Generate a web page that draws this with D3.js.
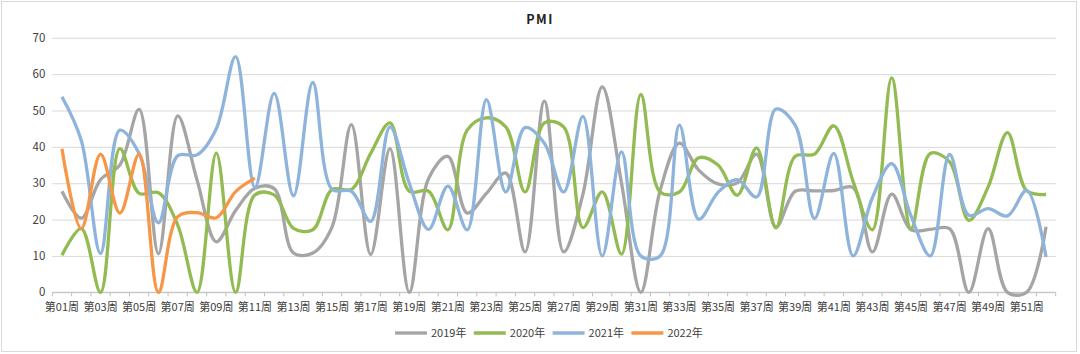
<!DOCTYPE html>
<html>
<head>
<meta charset="utf-8">
<script src="https://cdn.jsdelivr.net/npm/d3@7"></script>
<style>
  body { margin: 0; background: #fff; }
  text { font-family: "Noto Sans CJK SC", "Noto Sans", sans-serif; fill: #404040; }
</style>
</head>
<body>
<svg id="chart"></svg>
<script>
// Weeks 1..52
const weeks = d3.range(1, 53).map(d => "第" + String(d).padStart(2, "0") + "周");
const seriesNames = ["2019年", "2020年", "2021年", "2022年"];
const yTicks = [0, 10, 20, 30, 40, 50, 60, 70];

// Values
const v2019 = [27.8, 20.4, 31, 35, 50.3, 10.6, 48.5, 30.9, 13.9, 22.5, 28.6, 28.5, 10.8, 10.8, 18, 46.1, 10.4, 39.5, 0, 31.3,
  37.4, 21.8, 27.2, 32.8, 11.1, 52.6, 11.1, 27, 56.5, 30, 0, 28, 41, 33.6, 29.8, 30.1, 38, 18, 27.8, 27.9,
  28, 28.8, 11.1, 27, 17.2, 17.3, 17.5, 0, 17.5, 0, 0, 18];
const v2020 = [10.2, 17.5, 0, 39.5, 27.2, 27.4, 18.5, 0, 38.3, 0, 26.8, 26.8, 17.6, 17.2, 28.3, 28.3, 38.2, 46.6, 27.8, 27.8,
  17.2, 44.6, 48, 45.5, 27.6, 46.6, 45.5, 17.8, 27.6, 10.5, 54.4, 27.6, 27.6, 37, 35, 26.7, 39.7, 17.7, 37.4, 38,
  45.8, 30.5, 17.2, 59, 17.5, 38.2, 35.9, 19.8, 29, 43.9, 27.9, 26.9];
const v2021 = [53.8, 41.8, 10.7, 44.6, 38.2, 19.1, 37.6, 37.8, 45, 64.8, 28.8, 54.7, 26.5, 57.7, 28.3, 27.8, 19.5, 45.5, 30, 17.3,
  29.2, 17.2, 53, 27.6, 45.3, 41, 27.6, 48.4, 10, 38.6, 10, 10, 46, 20.1, 27.5, 31, 26.2, 50.4, 46, 20.3,
  38.2, 10, 26, 35.4, 21, 10, 37.9, 21.2, 23, 21, 28, 9.7];
const v2022 = [39.5, 17.5, 38, 21.8, 38, 0, 20.8, 21.9, 20.5, 27.7, 31.4];

const colors = ["#a5a5a5", "#92bb52", "#8fb4dc", "#f79646"];

const width = 1080, height = 354;
const plotLeft = 52.3, plotRight = 1055.7, plotTop = 37.8, plotBottom = 292.3;

const svg = d3.select("#chart")
    .attr("width", width)
    .attr("height", height);

// outer frame
svg.append("rect")
    .attr("x", 1.5).attr("y", 1.5)
    .attr("width", 1075).attr("height", 350)
    .attr("fill", "none")
    .attr("stroke", "#d9d9d9");

// title
svg.append("text")
    .attr("x", 540).attr("y", 24)
    .attr("text-anchor", "middle")
    .attr("font-size", 12.5)
    .attr("font-weight", "bold")
    .attr("letter-spacing", 1.5)
    .style("fill", "#222")
    .text("PMI");

const x = d3.scaleBand().domain(weeks).range([plotLeft, plotRight]);
const y = d3.scaleLinear().domain([0, 70]).range([plotBottom, plotTop]);

// gridlines + y labels
const yAxis = d3.axisLeft(y).tickValues(yTicks).tickSize(-(plotRight - plotLeft)).tickPadding(7);
const gy = svg.append("g").attr("transform", `translate(${plotLeft},0)`).call(yAxis);
gy.select(".domain").remove();
gy.selectAll("line").attr("stroke", "#d9d9d9");
gy.selectAll("text").attr("font-size", 11.5).attr("font-family", "Noto Sans, sans-serif");

// x axis with ticks between categories
const gx = svg.append("g").attr("transform", `translate(0,${plotBottom})`);
gx.append("line")
    .attr("x1", plotLeft).attr("x2", plotRight)
    .attr("stroke", "#bfbfbf");
gx.selectAll(".tk")
    .data(weeks.concat(["end"]))
    .enter().append("line")
    .attr("x1", (d, i) => plotLeft + i * x.bandwidth())
    .attr("x2", (d, i) => plotLeft + i * x.bandwidth())
    .attr("y1", 0).attr("y2", 4)
    .attr("stroke", "#bfbfbf");
gx.selectAll(".lbl")
    .data(weeks.filter((d, i) => i % 2 === 0))
    .enter().append("text")
    .attr("x", d => x(d) + x.bandwidth() / 2)
    .attr("y", 15)
    .attr("dy", "0.35em")
    .attr("text-anchor", "middle")
    .attr("font-size", 11)
    .text(d => d);

// lines (centripetal spline keeps the flat stretches flat like the original)
const line = d3.line()
    .x((d, i) => x(weeks[i]) + x.bandwidth() / 2)
    .y(d => y(d))
    .curve(d3.curveCatmullRom.alpha(0.5));

[v2019, v2020, v2021, v2022].forEach((vals, i) => {
    svg.append("path")
        .datum(vals)
        .attr("fill", "none")
        .attr("stroke", colors[i])
        .attr("stroke-width", 3.3)
        .attr("stroke-linejoin", "round")
        .attr("d", line);
});

// legend
const legend = svg.append("g").attr("transform", "translate(395,333)");
seriesNames.forEach((name, i) => {
    const g = legend.append("g").attr("transform", `translate(${i * 78.8},0)`);
    g.append("line")
        .attr("x1", 0).attr("x2", 32)
        .attr("stroke", colors[i])
        .attr("stroke-width", 3.3);
    g.append("text")
        .attr("x", 36)
        .attr("dy", "0.35em")
        .attr("font-size", 11)
        .text(name);
});
</script>
</body>
</html>
